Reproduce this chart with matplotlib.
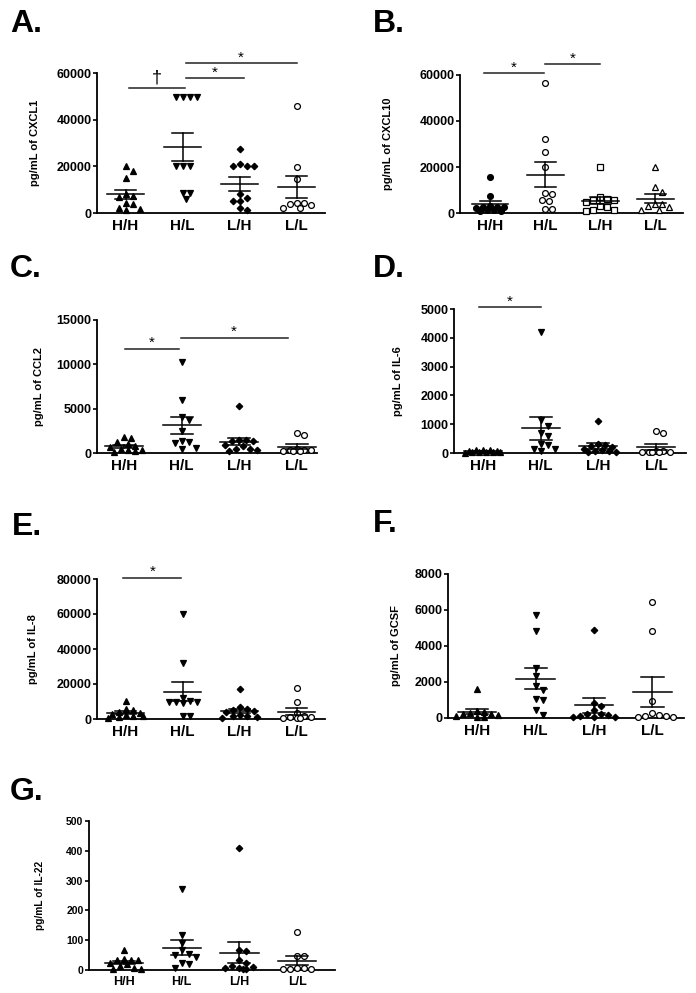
import numpy as np
import matplotlib
matplotlib.use("Agg")
import matplotlib.pyplot as plt

plt.rcParams["font.family"] = ["Liberation Sans", "DejaVu Sans"]
plt.rcParams["font.weight"] = "bold"

groups = ["H/H", "H/L", "L/H", "L/L"]

# A. CXCL1 (pg/mL)
cxcl1_hh = [20000, 17800, 14800, 8200, 7500, 7000, 4400, 3700, 2000, 1600, 1200]
cxcl1_hl = [49700, 49700, 49700, 49700, 20000, 20000, 20000, 8700, 8700, 6100]
cxcl1_lh = [27400, 21000, 20000, 20000, 20000, 8300, 5000, 5000, 6500, 1500, 2000]
cxcl1_ll = [45700, 19700, 14700, 3300, 4300, 2300, 4300, 2300, 4000]

# B. CXCL10
cxcl10_hh = [15800, 7500, 3000, 2800, 2600, 2400, 2200, 1500, 1200, 1000, 800]
cxcl10_hl = [56400, 32200, 26700, 20200, 8700, 8200, 5800, 5100, 1900, 1900]
cxcl10_lh = [20000, 7000, 6000, 5800, 5500, 4800, 3000, 2500, 1500, 1200, 1000]
cxcl10_ll = [20000, 11200, 9000, 4000, 3800, 2500, 1500, 1500, 3000]

# C. CCL2
ccl2_hh = [1750, 1700, 1200, 1000, 800, 700, 400, 350, 300, 200, 150]
ccl2_hl = [10300, 6000, 4100, 3700, 2500, 1300, 1200, 1100, 400, 600]
ccl2_lh = [5300, 1500, 1450, 1400, 1400, 900, 800, 500, 400, 350, 250]
ccl2_ll = [2300, 2050, 500, 350, 300, 300, 250, 250, 200]

# D. IL-6
il6_hh = [120, 100, 90, 80, 60, 50, 40, 30, 30, 20, 10]
il6_hl = [4200, 1150, 950, 700, 600, 320, 280, 150, 130, 60]
il6_lh = [1100, 300, 280, 250, 220, 150, 120, 80, 60, 50, 40]
il6_ll = [750, 700, 80, 60, 50, 50, 40, 40, 30]

# E. IL-8
il8_hh = [10500, 6000, 5000, 4000, 3500, 3000, 2500, 2000, 1500, 1000, 500]
il8_hl = [60000, 32000, 12000, 10500, 10000, 10000, 9500, 9000, 1800, 1500]
il8_lh = [17000, 7000, 5500, 5000, 4500, 4000, 2500, 2000, 1500, 1000, 800]
il8_ll = [18000, 9500, 3500, 1500, 1200, 1000, 800, 600, 500]

# F. GCSF
gcsf_hh = [1600, 400, 350, 300, 250, 200, 150, 100, 80, 50]
gcsf_hl = [5750, 4850, 2800, 2350, 1800, 1550, 1050, 1000, 450, 150]
gcsf_lh = [4900, 850, 650, 450, 250, 200, 150, 100, 80, 50, 50]
gcsf_ll = [6450, 4850, 950, 300, 150, 100, 100, 80, 50]

# G. IL-22
il22_hh = [68, 36, 34, 33, 32, 25, 20, 13, 8, 4, 3]
il22_hl = [273, 116, 91, 67, 55, 50, 45, 24, 19, 7]
il22_lh = [408, 66, 64, 33, 25, 14, 10, 8, 6, 5, 4]
il22_ll = [128, 47, 46, 8, 6, 5, 4, 3]

# significance bars: (from, to, height, symbol)
sig_a = [(1.07, 2.04, 53700, "†"), (2.06, 3.08, 57900, "*"), (2.06, 4.0, 64300, "*")]
sig_b = [(0.88, 1.97, 60700, "*"), (2.0, 3.0, 64600, "*")]
sig_c = [(1.02, 1.95, 11760, "*"), (1.98, 3.84, 13000, "*")]
sig_d = [(0.94, 2.0, 5070, "*")]
sig_e = [(0.96, 1.98, 80800, "*")]

W, H = 696, 993

filled = [("^", True), ("v", True), ("D", True), ("o", False)]
open_b = [("o", True), ("o", False), ("s", False), ("^", False)]

panels = [
    # label, label pos, ylabel, data, ymax, step, markers, sig, axes px (l, t, r, b), xlim, ylabel x, sizes
    ("A.", (10, 9), "pg/mL of CXCL1", [cxcl1_hh, cxcl1_hl, cxcl1_lh, cxcl1_ll],
     60000, 20000, filled, sig_a, (97, 73, 325, 213), (0.5, 4.5), -0.25, (9, 11, 8)),
    ("B.", (373, 9), "pg/mL of CXCL10", [cxcl10_hh, cxcl10_hl, cxcl10_lh, cxcl10_ll],
     60000, 20000, open_b, sig_b, (460, 75, 683, 213), (0.45, 4.5), -0.30, (9, 11, 8)),
    ("C.", (10, 254), "pg/mL of CCL2", [ccl2_hh, ccl2_hl, ccl2_lh, ccl2_ll],
     15000, 5000, filled, sig_c, (97, 320, 317, 453), (0.53, 4.35), -0.24, (9, 11, 8)),
    ("D.", (373, 254), "pg/mL of IL-6", [il6_hh, il6_hl, il6_lh, il6_ll],
     5000, 1000, filled, sig_d, (454, 309, 686, 453), (0.5, 4.52), -0.22, (9, 11, 8)),
    ("E.", (12, 512), "pg/mL of IL-8", [il8_hh, il8_hl, il8_lh, il8_ll],
     80000, 20000, filled, sig_e, (97, 579, 325, 719), (0.5, 4.5), -0.26, (9, 11, 8)),
    ("F.", (373, 509), "pg/mL of GCSF", [gcsf_hh, gcsf_hl, gcsf_lh, gcsf_ll],
     8000, 2000, filled, [], (448, 574, 684, 718), (0.5, 4.54), -0.20, (9, 11, 8)),
    ("G.", (10, 777), "pg/mL of IL-22", [il22_hh, il22_hl, il22_lh, il22_ll],
     500, 100, filled, [], (89, 821, 335, 970), (0.4, 4.65), -0.18, (7.5, 9, 7.3)),
]


def swarm(values, px_per_val, px_per_x, size=7.0, max_off=0.36):
    # spread close values sideways, Prism style, inside +-max_off
    ys = np.asarray(values, float) * px_per_val
    offs = np.zeros(len(ys))
    placed = []
    lim = max_off * px_per_x
    cands = [0.0]
    k = 1
    while k * size / 2 <= lim:
        cands += [k * size / 2, -k * size / 2]
        k += 1
    for i in np.argsort(-ys):
        best, best_d = 0.0, -1
        for c in cands:
            d = min([np.hypot(c - px, ys[i] - py) for px, py in placed] + [1e9])
            if d >= size:
                best = c
                break
            if d > best_d + 0.5:
                best, best_d = c, d
        placed.append((best, ys[i]))
        offs[i] = best / px_per_x
    return offs


fig = plt.figure(figsize=(W / 100, H / 100), dpi=100)

for (lab, lpos, ylab, data, ymax, step, marks, sig, px, xlim, ylx, fs) in panels:
    l, t, r, b = px
    ax = fig.add_axes([l / W, 1 - b / H, (r - l) / W, (b - t) / H])
    ax.set_xlim(*xlim)
    ax.set_ylim(0, ymax)
    px_per_val = (b - t) / ymax
    px_per_x = (r - l) / (xlim[1] - xlim[0])

    for i, vals in enumerate(data):
        xc = i + 1
        m, fill = marks[i]
        xs = xc + swarm(vals, px_per_val, px_per_x)
        ax.plot(xs, vals, ls="none", marker=m, ms=4.2 if m != "D" else 3.3,
                mfc="black" if fill else "white", mec="black", mew=0.9,
                clip_on=False, zorder=3)
        v = np.asarray(vals, float)
        mean = v.mean()
        sem = v.std(ddof=1) / np.sqrt(len(v))
        kw = dict(color="black", lw=1.1, clip_on=False, zorder=4)
        ax.plot([xc - 0.33, xc + 0.33], [mean, mean], **kw)
        ax.plot([xc, xc], [mean - sem, mean + sem], **kw)
        ax.plot([xc - 0.19, xc + 0.19], [mean + sem, mean + sem], **kw)
        ax.plot([xc - 0.19, xc + 0.19], [mean - sem, mean - sem], **kw)

    for x1, x2, yv, s in sig:
        ax.plot([x1, x2], [yv, yv], color="#222222", lw=1.1, clip_on=False)
        if s == "*":
            ax.annotate(s, ((x1 + x2) / 2, yv), xytext=(0, -1), textcoords="offset points",
                        ha="center", va="bottom", fontsize=11, fontweight="normal",
                        annotation_clip=False)
        else:
            ax.annotate(s, ((x1 + x2) / 2, yv), xytext=(0, 1), textcoords="offset points",
                        ha="center", va="bottom", fontsize=13, fontweight="normal",
                        annotation_clip=False)

    for sp in ["top", "right"]:
        ax.spines[sp].set_visible(False)
    for sp in ["left", "bottom"]:
        ax.spines[sp].set_linewidth(1.3)
    ax.set_yticks(np.arange(0, ymax + 1, step))
    ax.set_xticks(range(1, 5))
    ax.set_xticklabels(groups)
    ax.tick_params(axis="y", direction="out", length=3, width=1.2, labelsize=fs[0], pad=1)
    ax.tick_params(axis="x", length=0, labelsize=fs[1], pad=4)
    ax.set_ylabel(ylab, fontsize=fs[2], fontweight="bold")
    ax.yaxis.set_label_coords(ylx, 0.5)

    fig.text(lpos[0] / W, 1 - lpos[1] / H, lab, fontsize=23, fontweight="bold",
             ha="left", va="top")

fig.savefig("out.png", dpi=100)
